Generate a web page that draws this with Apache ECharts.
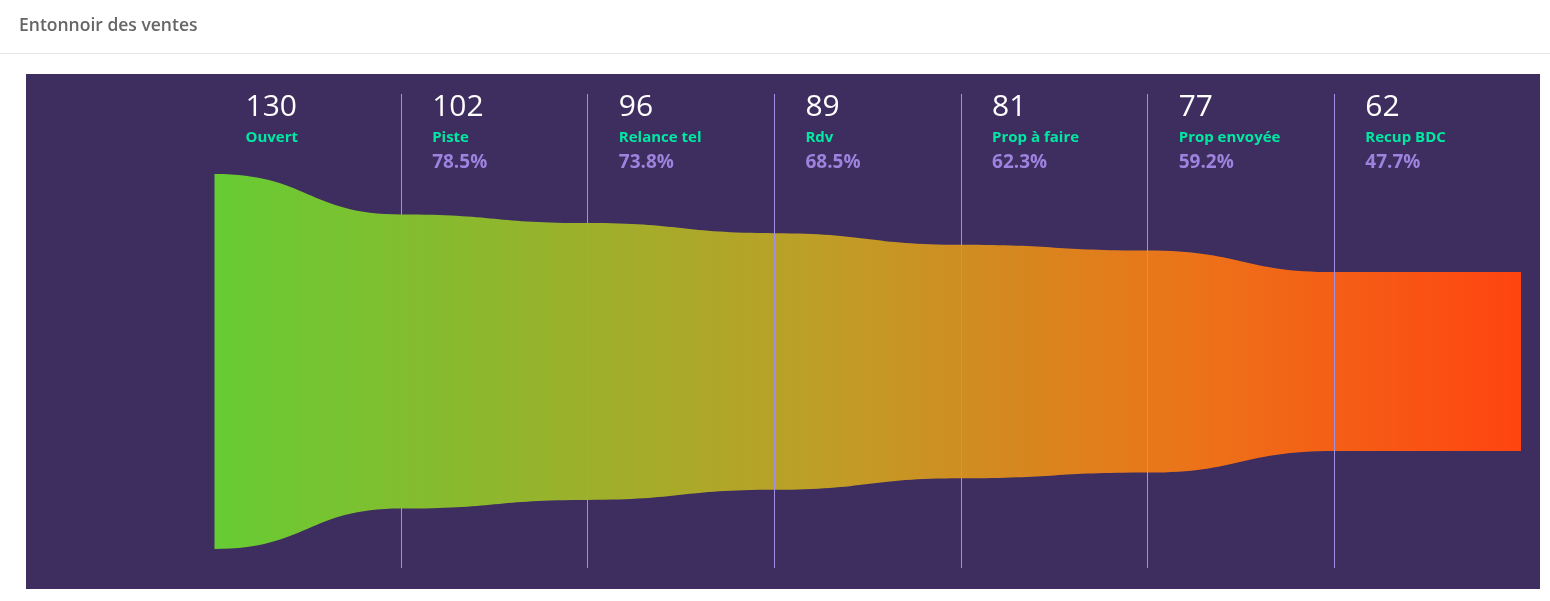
<!DOCTYPE html>
<html>
<head>
<meta charset="utf-8">
<script src="https://cdn.jsdelivr.net/npm/echarts@6/dist/echarts.min.js"></script>
<style>
html,body{margin:0;padding:0;background:#fff;}
#chart{width:1550px;height:601px;}
</style>
</head>
<body>
<div id="chart"></div>
<script>
const stages = ['Ouvert', 'Piste', 'Relance tel', 'Rdv', 'Prop à faire', 'Prop envoyée', 'Recup BDC'];
const counts = [130, 102, 96, 89, 81, 77, 62];
const titleText = 'Entonnoir des ventes';

const chart = echarts.init(document.getElementById('chart'), null, {renderer: 'canvas'});
const FONT = "'Open Sans', 'Noto Sans', sans-serif";
const maxV = counts[0];

function funnelRender(params, api) {
  const n = counts.length;
  const vals = counts.concat([counts[n - 1]]);
  const top = [], bot = [];
  for (let i = 0; i <= n; i++) {
    top.push(api.coord([i, vals[i] / 2]));
    bot.push(api.coord([i, -vals[i] / 2]));
  }
  let d = 'M' + top[0][0] + ' ' + top[0][1];
  for (let i = 0; i < n; i++) {
    const mx = (top[i][0] + top[i + 1][0]) / 2;
    d += ' C' + mx + ' ' + top[i][1] + ' ' + mx + ' ' + top[i + 1][1] + ' ' + top[i + 1][0] + ' ' + top[i + 1][1];
  }
  d += ' L' + bot[n][0] + ' ' + bot[n][1];
  for (let i = n; i > 0; i--) {
    const mx = (bot[i][0] + bot[i - 1][0]) / 2;
    d += ' C' + mx + ' ' + bot[i][1] + ' ' + mx + ' ' + bot[i - 1][1] + ' ' + bot[i - 1][0] + ' ' + bot[i - 1][1];
  }
  d += ' Z';
  const children = [{
    type: 'path',
    shape: {pathData: d},
    style: {
      fill: new echarts.graphic.LinearGradient(0, 0, 1, 0, [
        {offset: 0, color: '#66cc33'},
        {offset: 0.45, color: '#bca027'},
        {offset: 0.75, color: '#ec7319'},
        {offset: 1, color: '#ff4411'}
      ])
    }
  }];
  const cs = params.coordSys;
  const lineTop = cs.y - 80;
  const lineBot = cs.y + cs.height + 19;
  for (let i = 1; i < n; i++) {
    const x = Math.floor(api.coord([i, 0])[0]) + 0.5;
    children.push({
      type: 'line',
      shape: {x1: x, y1: lineTop, x2: x, y2: lineBot},
      style: {stroke: '#a38ee6', lineWidth: 1}
    });
  }
  for (let i = 0; i < n; i++) {
    const x = api.coord([i, 0])[0] + 31;
    children.push({
      type: 'text',
      style: {text: String(counts[i]), x: x, y: cs.y - 82, fill: '#ffffff', font: '30px ' + FONT, verticalAlign: 'top'}
    });
    children.push({
      type: 'text',
      style: {text: stages[i], x: x, y: cs.y - 44, fill: '#00e8a2', font: 'bold 15px ' + FONT, verticalAlign: 'top'}
    });
    if (i > 0) {
      children.push({
        type: 'text',
        style: {text: (counts[i] / maxV * 100).toFixed(1) + '%', x: x, y: cs.y - 21, fill: '#9d82de', font: 'bold 19px ' + FONT, verticalAlign: 'top'}
      });
    }
  }
  return {type: 'group', children: children};
}

chart.setOption({
  animation: false,
  title: {
    text: titleText,
    left: 19,
    top: 17,
    padding: 0,
    textStyle: {fontFamily: FONT, fontSize: 17.5, fontWeight: 600, color: '#666666'}
  },
  graphic: [
    {type: 'rect', left: 0, top: 53, z: -10, shape: {width: 1550, height: 1}, style: {fill: '#e6e6e6'}},
    {type: 'rect', left: 26, top: 74, z: -10, shape: {width: 1514, height: 515}, style: {fill: '#3e2d5f'}}
  ],
  grid: {left: 214.5, right: 29, top: 174, bottom: 52},
  xAxis: {type: 'value', min: 0, max: 7, show: false},
  yAxis: {type: 'value', min: -65, max: 65, show: false},
  series: [{
    type: 'custom',
    renderItem: funnelRender,
    data: [0],
    silent: true
  }]
});
</script>
</body>
</html>
